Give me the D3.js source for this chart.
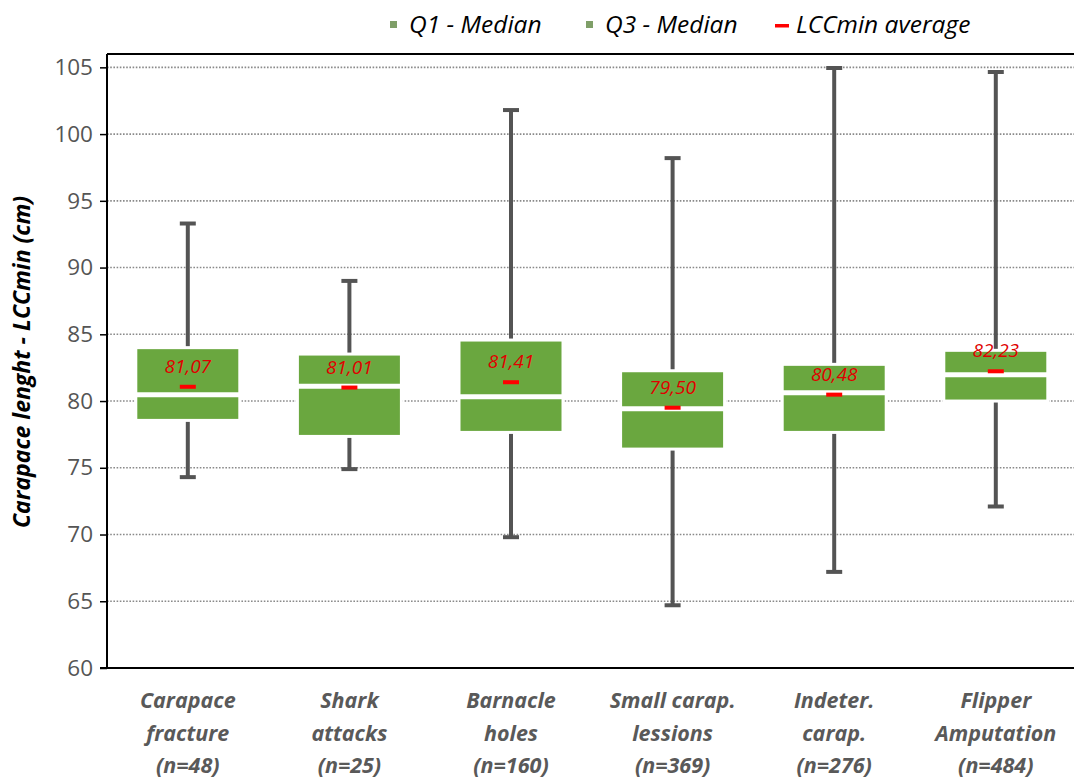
<!DOCTYPE html>
<html>
<head>
<meta charset="utf-8">
<script src="https://cdn.jsdelivr.net/npm/d3@7"></script>
<style>
  body { margin: 0; background: #fff; }
  svg { display: block; }
</style>
</head>
<body>
<div id="grafica"></div>
<script>
// categories (three label lines each)
var categories = ["Carapace fracture", "Shark attacks", "Barnacle holes", "Small carap. lessions", "Indeter. carap.", "Flipper Amputation"];
var labelLines = [
  ["Carapace", "fracture", "(n=48)"],
  ["Shark", "attacks", "(n=25)"],
  ["Barnacle", "holes", "(n=160)"],
  ["Small carap.", "lessions", "(n=369)"],
  ["Indeter.", "carap.", "(n=276)"],
  ["Flipper", "Amputation", "(n=484)"]
];
// box values (cm)
var minVals = [74.3, 74.9, 69.8, 64.7, 67.2, 72.1];
var q1Vals = [78.55, 77.35, 77.65, 76.4, 77.65, 80.0];
var medianVals = [80.47, 81.1, 80.33, 79.42, 80.63, 81.97];
var q3Vals = [84.0, 83.52, 84.57, 82.27, 82.75, 83.8];
var maxVals = [93.3, 89.0, 101.8, 98.2, 104.95, 104.65];
var meanVals = [81.07, 81.01, 81.41, 79.50, 80.48, 82.23];
var meanLabels = ["81,07", "81,01", "81,41", "79,50", "80,48", "82,23"];
var yTicks = [60, 65, 70, 75, 80, 85, 90, 95, 100, 105];
var legendItems = ["Q1 - Median", "Q3 - Median", "LCCmin average"];

var data = categories.map(function (c, i) {
  return {
    cat: c, lines: labelLines[i], min: minVals[i], q1: q1Vals[i], med: medianVals[i],
    q3: q3Vals[i], max: maxVals[i], mean: meanVals[i], label: meanLabels[i]
  };
});

var W = 1074, H = 780;
var plotLeft = 107, plotTop = 54, plotBottom = 668, bandW = 161.6;

var svg = d3.select("#grafica")
  .append("svg")
  .attr("width", W)
  .attr("height", H);

// scales
var x = d3.scaleBand()
  .domain(categories)
  .range([plotLeft, plotLeft + bandW * categories.length])
  .padding(0);

var y = d3.scaleLinear()
  .domain([60, 106])
  .range([plotBottom, plotTop]);

var green = "#6aa73f";
var boxW = 104;

// gridlines
svg.append("g")
  .selectAll("line")
  .data(yTicks.filter(function (d) { return d > 60; }))
  .enter()
  .append("line")
  .attr("x1", plotLeft)
  .attr("x2", W)
  .attr("y1", function (d) { return y(d); })
  .attr("y2", function (d) { return y(d); })
  .style("stroke", "#8a8a8a")
  .style("stroke-width", 1.6)
  .style("stroke-dasharray", "1.6,1.6");

// Y axis
var yAxis = svg.append("g")
  .attr("transform", "translate(" + plotLeft + ",0)")
  .call(d3.axisLeft(y).tickValues(yTicks).tickSize(7).tickPadding(7));
yAxis.select(".domain").remove();
yAxis.selectAll(".tick line").style("stroke", "#000").style("stroke-width", 1.5);
yAxis.selectAll(".tick text")
  .style("font-family", "'Open Sans', sans-serif")
  .style("font-size", "22.5px")
  .style("fill", "#555");

// frame lines
svg.append("line").attr("x1", plotLeft).attr("x2", plotLeft).attr("y1", plotTop).attr("y2", plotBottom)
  .style("stroke", "#000").style("stroke-width", 2);
svg.append("line").attr("x1", plotLeft).attr("x2", W).attr("y1", plotTop).attr("y2", plotTop)
  .style("stroke", "#000").style("stroke-width", 2);
svg.append("line").attr("x1", plotLeft - 7).attr("x2", W).attr("y1", plotBottom).attr("y2", plotBottom)
  .style("stroke", "#000").style("stroke-width", 2);

// whiskers
var cx = function (d) { return x(d.cat) + x.bandwidth() / 2; };
var wh = svg.append("g");
wh.selectAll(".wtop").data(data).enter().append("line")
  .attr("x1", cx).attr("x2", cx)
  .attr("y1", function (d) { return y(d.max); })
  .attr("y2", function (d) { return y(d.q3); })
  .style("stroke", "#545454").style("stroke-width", 4);
wh.selectAll(".wbot").data(data).enter().append("line")
  .attr("x1", cx).attr("x2", cx)
  .attr("y1", function (d) { return y(d.q1); })
  .attr("y2", function (d) { return y(d.min); })
  .style("stroke", "#545454").style("stroke-width", 4);
wh.selectAll(".ctop").data(data).enter().append("line")
  .attr("x1", function (d) { return cx(d) - 8; }).attr("x2", function (d) { return cx(d) + 8; })
  .attr("y1", function (d) { return y(d.max); })
  .attr("y2", function (d) { return y(d.max); })
  .style("stroke", "#545454").style("stroke-width", 4);
wh.selectAll(".cbot").data(data).enter().append("line")
  .attr("x1", function (d) { return cx(d) - 8; }).attr("x2", function (d) { return cx(d) + 8; })
  .attr("y1", function (d) { return y(d.min); })
  .attr("y2", function (d) { return y(d.min); })
  .style("stroke", "#545454").style("stroke-width", 4);

// boxes: Q1 - median and median - Q3
var boxes = svg.append("g");
boxes.selectAll(".lo").data(data).enter().append("rect")
  .attr("x", function (d) { return cx(d) - boxW / 2; })
  .attr("width", boxW)
  .attr("y", function (d) { return y(d.med); })
  .attr("height", function (d) { return y(d.q1) - y(d.med); })
  .style("fill", green).style("stroke", "#fff").style("stroke-width", 3);
boxes.selectAll(".hi").data(data).enter().append("rect")
  .attr("x", function (d) { return cx(d) - boxW / 2; })
  .attr("width", boxW)
  .attr("y", function (d) { return y(d.q3); })
  .attr("height", function (d) { return y(d.med) - y(d.q3); })
  .style("fill", green).style("stroke", "#fff").style("stroke-width", 3);
// median gap
boxes.selectAll(".med").data(data).enter().append("line")
  .attr("x1", function (d) { return cx(d) - boxW / 2; })
  .attr("x2", function (d) { return cx(d) + boxW / 2; })
  .attr("y1", function (d) { return y(d.med); })
  .attr("y2", function (d) { return y(d.med); })
  .style("stroke", "#fff").style("stroke-width", 5);

// mean markers and labels
svg.append("g").selectAll("rect").data(data).enter().append("rect")
  .attr("x", function (d) { return cx(d) - 8; })
  .attr("y", function (d) { return y(d.mean) - 2; })
  .attr("width", 16).attr("height", 4)
  .style("fill", "#ff0000");
svg.append("g").selectAll("text").data(data).enter().append("text")
  .attr("x", cx)
  .attr("y", function (d) { return y(d.mean) - 14; })
  .attr("text-anchor", "middle")
  .style("font-family", "'Open Sans', sans-serif")
  .style("font-style", "italic")
  .style("font-size", "19px")
  .style("fill", "#e00000")
  .text(function (d) { return d.label; });

// X labels
var xl = svg.append("g").selectAll("text").data(data).enter().append("text")
  .attr("text-anchor", "middle")
  .style("font-family", "'Open Sans', sans-serif")
  .style("font-style", "italic")
  .style("font-weight", "bold")
  .style("font-size", "21.5px")
  .style("fill", "#595959");
xl.selectAll("tspan").data(function (d) { return d.lines.map(function (l) { return { l: l, c: cx(d) }; }); })
  .enter().append("tspan")
  .attr("x", function (d) { return d.c; })
  .attr("y", function (d, i) { return 708 + i * 32.5; })
  .text(function (d) { return d.l; });

// Y title
svg.append("text")
  .attr("transform", "translate(30,362) rotate(-90)")
  .attr("text-anchor", "middle")
  .style("font-family", "'Open Sans', sans-serif")
  .style("font-style", "italic")
  .style("font-weight", "bold")
  .style("font-size", "23px")
  .style("fill", "#000")
  .text("Carapace lenght - LCCmin (cm)");

// legend
var legX = [390, 586, 775];
var leg = svg.append("g");
leg.selectAll("rect").data(legendItems).enter().append("rect")
  .attr("x", function (d, i) { return legX[i]; })
  .attr("y", function (d, i) { return i < 2 ? 21 : 24; })
  .attr("width", function (d, i) { return i < 2 ? 7 : 14; })
  .attr("height", function (d, i) { return i < 2 ? 7 : 3.5; })
  .style("fill", function (d, i) { return i < 2 ? "#7f9f68" : "#ff0000"; });
leg.selectAll("text").data(legendItems).enter().append("text")
  .attr("x", function (d, i) { return legX[i] + (i < 2 ? 19 : 21); })
  .attr("y", 33)
  .style("font-family", "'Open Sans', sans-serif")
  .style("font-style", "italic")
  .style("font-size", "24.5px")
  .style("fill", "#000")
  .text(function (d) { return d; });
</script>
</body>
</html>
